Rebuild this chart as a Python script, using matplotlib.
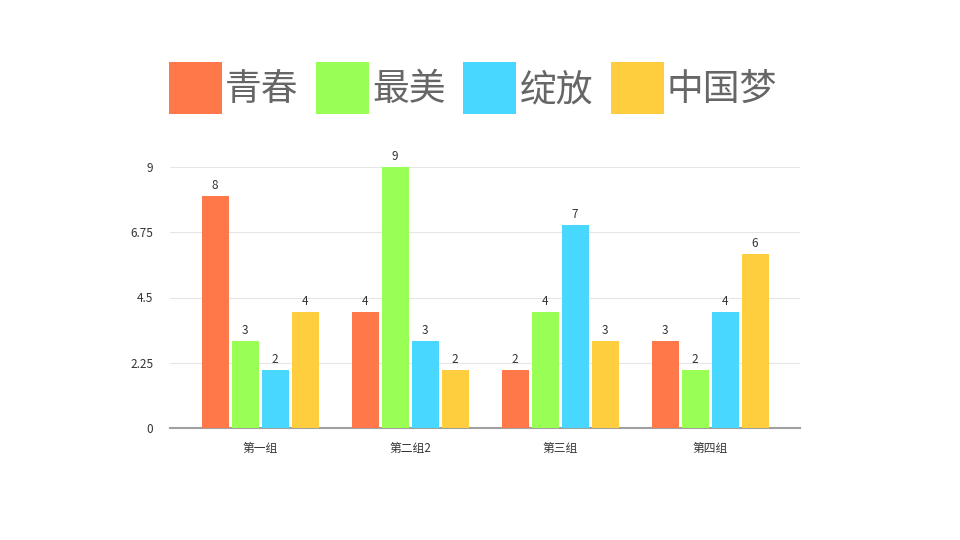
import numpy as np
import matplotlib.pyplot as plt
from matplotlib.patches import Patch

plt.rcParams['font.family'] = ['Noto Sans CJK SC', 'DejaVu Sans']

groups = ['第一组', '第二组2', '第三组', '第四组']
series = ['青春', '最美', '绽放', '中国梦']
values = [
    [8, 4, 2, 3],
    [3, 9, 4, 2],
    [2, 3, 7, 4],
    [4, 2, 3, 6],
]
colors = ['#FF784A', '#99FF55', '#48D8FF', '#FFCE3F']
yticks = [0, 2.25, 4.5, 6.75, 9]

fig = plt.figure(figsize=(9.6, 5.4), dpi=100)
ax = fig.add_axes([170/960, 112/540, 630/960, 261/540])

x = np.arange(len(groups))
offsets = [-0.3, -0.1, 0.1, 0.3]
for vals, col, off, name in zip(values, colors, offsets, series):
    bars = ax.bar(x + off, vals, width=0.18, color=col, label=name, zorder=3)
    ax.bar_label(bars, padding=3, fontsize=8.5, color='#333333')

ax.set_xlim(-0.6, 3.6)
ax.set_ylim(0, 9)
ax.set_yticks(yticks)
ax.set_yticklabels(['0', '2.25', '4.5', '6.75', '9'])
ax.set_xticks(x)
ax.set_xticklabels(groups)
ax.tick_params(axis='both', length=0, labelsize=8.5, labelcolor='#333333')
ax.tick_params(axis='y', pad=12)
ax.tick_params(axis='x', pad=10)
ax.grid(axis='y', color='#E6E6E6', linewidth=0.8, zorder=0)
for s in ['top', 'right', 'left']:
    ax.spines[s].set_visible(False)
ax.spines['bottom'].set_color('#A0A0A0')
ax.spines['bottom'].set_linewidth(1.5)

handles = [Patch(facecolor=c, edgecolor='none') for c in colors]
fig.legend(handles, series, loc='center', bbox_to_anchor=(473/960, 1 - 88/540),
           ncol=4, frameon=False, fontsize=26.5, labelcolor='#666666',
           handlelength=1.44, handleheight=1.80, handletextpad=0.08,
           columnspacing=0.48, borderaxespad=0)

fig.savefig('out.png', dpi=100, facecolor='white')
